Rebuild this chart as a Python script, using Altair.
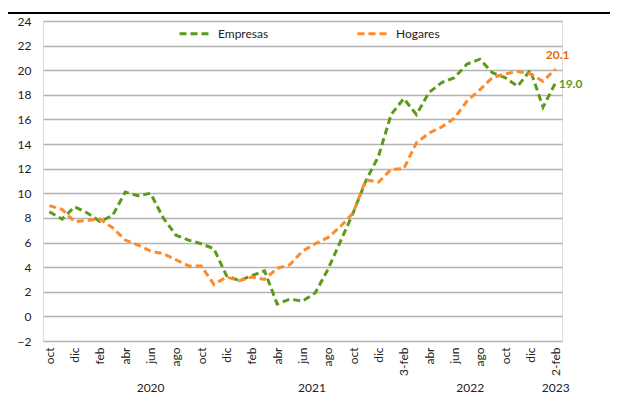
import altair as alt
import pandas as pd

# ---- data ----
empresas = [8.5, 7.9, 8.9, 8.4, 7.7, 8.2, 10.1, 9.8, 10.0, 8.0,
            6.6, 6.2, 5.9, 5.5, 3.3, 2.9, 3.3, 3.7, 1.0, 1.4,
            1.25, 1.9, 3.8, 6.1, 8.4, 11.0, 13.0, 16.4, 17.7, 16.4,
            18.2, 19.0, 19.4, 20.5, 20.9, 19.8, 19.4, 18.7, 20.0, 17.0,
            19.0]
hogares = [9.0, 8.7, 7.7, 7.8, 7.9, 7.2, 6.2, 5.8, 5.3, 5.1,
           4.6, 4.1, 4.1, 2.6, 3.2, 2.9, 3.2, 3.0, 3.9, 4.2,
           5.3, 5.9, 6.4, 7.3, 8.4, 11.1, 10.9, 11.95, 12.0, 14.1,
           14.9, 15.4, 16.1, 17.5, 18.4, 19.4, 19.7, 19.9, 19.7, 19.1,
           20.1]
tick_labels = ["oct", "dic", "feb", "abr", "jun", "ago", "oct", "dic", "feb", "abr",
               "jun", "ago", "oct", "dic", "3-feb", "abr", "jun", "ago", "oct", "dic",
               "2-feb"]
years = ["2020", "2021", "2022", "2023"]
year_pos = [8.0, 20.75, 33.25, 40.0]
series = ["Empresas", "Hogares"]
colors = ["#5B9B1B", "#FF8A2B"]
label_colors = ["#5B9B1B", "#E46C0A"]

FONT = "Lato"
W, H = 519, 320

rows = []
for i, v in enumerate(empresas):
    rows.append({"idx": i, "serie": "Empresas", "valor": v})
for i, v in enumerate(hogares):
    rows.append({"idx": i, "serie": "Hogares", "valor": v})
df = pd.DataFrame(rows)

n = len(empresas)
last = pd.DataFrame({
    "idx": [n - 1, n - 1],
    "serie": series,
    "valor": [empresas[-1], hogares[-1]],
})

years_df = pd.DataFrame({"year": years, "pos": year_pos})

label_expr = "[" + ",".join("'%s'" % t for t in tick_labels) + "][round(datum.value/2)]"

xscale = alt.Scale(domain=[-0.5, n - 0.5], nice=False, zero=False)
yscale = alt.Scale(domain=[-2, 24], nice=False)

xvals = list(range(0, n, 2))
yvals = list(range(-2, 25, 2))

base = alt.Chart(df)

lines = base.mark_line(strokeDash=[7, 4], strokeWidth=3).encode(
    x=alt.X("idx:Q", scale=xscale,
            axis=alt.Axis(values=xvals, tickCount=len(xvals), labelExpr=label_expr,
                          labelAngle=-90, labelFont=FONT, labelFontSize=12,
                          labelColor="#222222", labelPadding=6, grid=False,
                          labelOverlap=False, labelBound=False,
                          domain=False, ticks=False, title=None)),
    y=alt.Y("valor:Q", scale=yscale,
            axis=alt.Axis(values=yvals, tickCount=len(yvals), labelFont=FONT,
                          labelFontSize=12, labelColor="#222222", labelPadding=12,
                          labelOverlap=False, labelBound=False,
                          gridColor="#B3B3B3", gridWidth=1.3, domain=False,
                          ticks=False, title=None)),
    color=alt.Color("serie:N",
                    scale=alt.Scale(domain=series, range=colors),
                    legend=alt.Legend(orient="none", legendX=135, legendY=-4,
                                      direction="horizontal", title=None,
                                      symbolType="stroke", symbolSize=900,
                                      symbolStrokeWidth=3, symbolDash=[7, 4],
                                      columnPadding=82, labelFont=FONT,
                                      labelFontSize=12, labelColor="#222222",
                                      labelOffset=7)),
)

lab_h = alt.Chart(last[last.serie == "Hogares"]).mark_text(
    font=FONT, fontSize=12, fontWeight="bold", color=label_colors[1],
    align="center", baseline="middle", dx=2, dy=-14
).encode(x=alt.X("idx:Q", scale=xscale), y=alt.Y("valor:Q", scale=yscale),
         text=alt.Text("valor:Q", format=".1f"))

lab_e = alt.Chart(last[last.serie == "Empresas"]).mark_text(
    font=FONT, fontSize=12, fontWeight="bold", color=label_colors[0],
    align="left", baseline="middle", dx=3, dy=1
).encode(x=alt.X("idx:Q", scale=xscale), y=alt.Y("valor:Q", scale=yscale),
         text=alt.Text("valor:Q", format=".1f"))

year_text = alt.Chart(years_df).mark_text(
    font=FONT, fontSize=12, color="#222222", align="center", baseline="alphabetic"
).encode(x=alt.X("pos:Q", scale=xscale), y=alt.value(H + 51), text="year:N")

top_rule = alt.Chart(pd.DataFrame({"a": [0]})).mark_rule(
    color="black", strokeWidth=2
).encode(x=alt.value(-35), x2=alt.value(W + 48), y=alt.value(-8))

chart = alt.layer(lines, lab_h, lab_e, year_text, top_rule).properties(
    width=W, height=H,
    padding={"left": 35, "top": 13, "right": 48, "bottom": 56},
    autosize=alt.AutoSizeParams(type="none"),
).configure_view(stroke=None).configure(background="white")

chart.save("out.html", embed_options={"renderer": "svg", "actions": False})
